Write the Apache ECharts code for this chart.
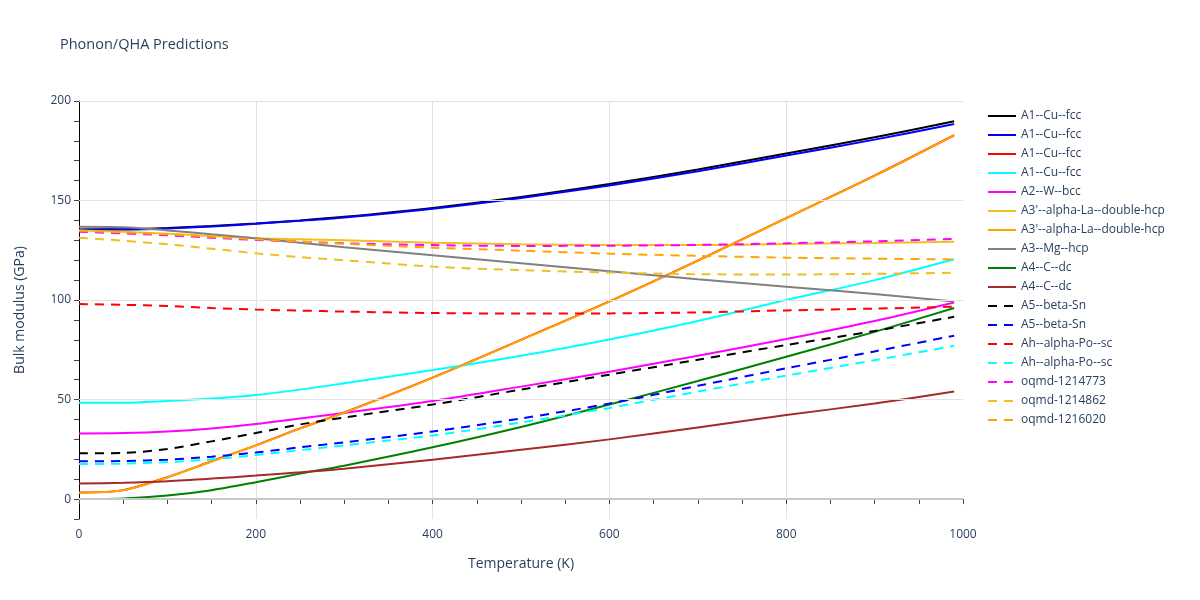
<!DOCTYPE html>
<html>
<head>
<meta charset="utf-8">
<script src="https://cdn.jsdelivr.net/npm/echarts@6/dist/echarts.min.js"></script>
<style>html,body{margin:0;padding:0;background:#fff}#chart{width:1200px;height:600px}</style>
</head>
<body>
<div id="chart"></div>
<script>
const temperatures = [0, 50, 100, 150, 200, 250, 300, 400, 500, 600, 700, 800, 900, 990];

const seriesNames = [
  "A1--Cu--fcc", "A1--Cu--fcc", "A1--Cu--fcc", "A1--Cu--fcc", "A2--W--bcc",
  "A3'--alpha-La--double-hcp", "A3'--alpha-La--double-hcp", "A3--Mg--hcp",
  "A4--C--dc", "A4--C--dc", "A5--beta-Sn", "A5--beta-Sn",
  "Ah--alpha-Po--sc", "Ah--alpha-Po--sc", "oqmd-1214773", "oqmd-1214862", "oqmd-1216020"
];

const a1CuBlack  = [135.5, 135.6, 136.2, 137.2, 138.5, 140.0, 141.8, 146.3, 151.8, 158.3, 165.6, 173.6, 181.8, 189.8];
const a1CuBlue   = [135.3, 135.4, 136.0, 137.0, 138.3, 139.8, 141.5, 145.9, 151.3, 157.6, 164.7, 172.6, 180.6, 188.4];
const a1CuRed    = [3.3, 4.5, 11.0, 19.0, 27.0, 35.5, 43.5, 61.0, 80.0, 99.3, 119.8, 141.2, 162.5, 182.8];
const a1CuCyan   = [48.4, 48.4, 49.3, 50.5, 52.3, 55.0, 58.2, 64.8, 72.0, 80.2, 89.5, 100.0, 110.0, 120.5];
const a2W        = [33.0, 33.2, 34.0, 35.5, 37.7, 40.5, 43.3, 49.3, 56.5, 64.0, 72.0, 80.4, 89.5, 98.8];
const a3LaGold   = [135.0, 134.3, 133.3, 132.2, 131.0, 130.5, 130.0, 128.8, 128.0, 127.6, 127.6, 128.2, 128.7, 129.3];
const a3LaOrange = [3.2, 4.4, 10.9, 18.9, 26.9, 35.4, 43.4, 60.9, 79.9, 99.2, 119.7, 141.1, 162.4, 182.7];
const a3Mg       = [136.8, 136.6, 135.0, 133.0, 131.0, 128.8, 126.5, 122.5, 118.5, 114.5, 110.5, 106.7, 103.0, 99.3];
const a4CGreen   = [0.0, 0.3, 1.8, 4.5, 8.5, 12.8, 16.8, 26.0, 36.2, 47.5, 59.3, 71.5, 84.0, 96.0];
const a4CBrown   = [7.8, 8.2, 9.0, 10.3, 11.8, 13.5, 15.3, 19.8, 24.8, 30.0, 36.0, 42.2, 48.0, 54.0];
const a5SnBlack  = [23.0, 23.2, 25.2, 29.0, 33.2, 37.5, 41.0, 47.5, 55.0, 62.5, 70.0, 77.4, 84.5, 91.6];
const a5SnBlue   = [19.0, 19.1, 19.8, 21.3, 23.4, 26.0, 28.5, 34.0, 40.5, 48.0, 56.9, 65.7, 74.2, 82.1];
const ahPoRed    = [98.0, 97.6, 97.0, 96.0, 95.2, 94.7, 94.2, 93.5, 93.2, 93.3, 93.8, 94.8, 95.7, 96.6];
const ahPoCyan   = [17.6, 17.8, 18.6, 20.0, 22.1, 24.6, 27.0, 32.0, 38.5, 45.8, 54.0, 62.0, 69.8, 77.0];
const oqmd1214773 = [134.3, 133.5, 132.5, 131.3, 130.2, 129.3, 128.5, 127.6, 127.2, 127.3, 127.7, 128.5, 129.5, 130.7];
const oqmd1214862 = [131.3, 129.8, 128.0, 125.8, 123.5, 121.6, 120.0, 116.8, 115.0, 113.8, 113.0, 112.8, 113.2, 113.7];
const oqmd1216020 = [134.8, 134.0, 133.0, 131.8, 130.5, 129.3, 128.3, 126.3, 124.8, 123.3, 122.2, 121.3, 120.8, 120.4];

const xTicks = [0, 200, 400, 600, 800, 1000];
const yTicks = [0, 50, 100, 150, 200];

const allValues = [a1CuBlack, a1CuBlue, a1CuRed, a1CuCyan, a2W, a3LaGold, a3LaOrange, a3Mg,
  a4CGreen, a4CBrown, a5SnBlack, a5SnBlue, ahPoRed, ahPoCyan, oqmd1214773, oqmd1214862, oqmd1216020];
const colors = ['#000000', '#0000ff', '#ff0000', '#00ffff', '#ff00ff', '#f0c020', '#ffa500', '#808080',
  '#008000', '#a52a2a', '#000000', '#0000ff', '#ff0000', '#00ffff', '#ff00ff', '#f0c020', '#ffa500'];
const dashed = [false, false, false, false, false, false, false, false, false, false,
  true, true, true, true, true, true, true];

const textColor = '#2a3f5f';
const font = '"Open Sans", "Noto Sans", sans-serif';

const series = allValues.map((vals, i) => ({
  name: seriesNames[i] + '#' + i,
  type: 'line',
  z: 3,
  data: temperatures.map((t, j) => [t, vals[j]]),
  smooth: 0.3,
  symbol: 'none',
  lineStyle: { color: colors[i], width: 2, type: dashed[i] ? [9, 7] : 'solid' },
  itemStyle: { color: colors[i] },
  emphasis: { disabled: true }
}));

series.push({
  name: 'grid-helper',
  type: 'line',
  z: 1,
  data: [],
  silent: true,
  markLine: {
    silent: true,
    symbol: 'none',
    label: { show: false },
    animation: false,
    data: yTicks.map(v => ({
      yAxis: v,
      lineStyle: v === 0 ? { color: '#c8c8c8', width: 2, type: 'solid' } : { color: '#e2e2e2', width: 1, type: 'solid' }
    }))
  }
});

const chart = echarts.init(document.getElementById('chart'));
chart.setOption({
  animation: false,
  backgroundColor: '#ffffff',
  title: {
    text: 'Phonon/QHA Predictions',
    left: 60, top: 37, padding: 0,
    textStyle: { fontFamily: font, fontSize: 14.5, fontWeight: 'normal', color: textColor }
  },
  legend: {
    orient: 'vertical',
    left: 987, top: 110, padding: 0,
    itemWidth: 28, itemHeight: 14, itemGap: 7,
    data: seriesNames.map((n, i) => n + '#' + i),
    formatter: name => name.split('#')[0],
    itemStyle: { opacity: 0 },
    textStyle: { fontFamily: font, fontSize: 12, color: textColor },
    selectedMode: false
  },
  grid: { left: 79, right: 237, top: 101, bottom: 81, containLabel: false },
  xAxis: {
    type: 'value',
    min: 0, max: 1000, interval: 200,
    name: 'Temperature (K)',
    nameLocation: 'middle', nameGap: 38,
    nameTextStyle: { fontFamily: font, fontSize: 14, color: textColor },
    axisLine: { show: true, lineStyle: { color: '#000000', width: 1 } },
    axisTick: { show: true, inside: false, length: 5, lineStyle: { color: '#444' } },
    minorTick: { show: true, splitNumber: 4, length: 5, lineStyle: { color: '#444' } },
    axisLabel: { fontFamily: font, fontSize: 12, color: textColor, margin: 10,
      formatter: v => xTicks.includes(v) ? String(v) : '' },
    splitLine: { show: true, showMinLine: false, showMaxLine: false, lineStyle: { color: '#e2e2e2', width: 1 } }
  },
  yAxis: {
    type: 'value',
    min: -10, max: 200, interval: 10,
    name: 'Bulk modulus (GPa)',
    nameLocation: 'middle', nameGap: 52,
    nameTextStyle: { fontFamily: font, fontSize: 14, color: textColor },
    axisLine: { show: true, onZero: false, lineStyle: { color: '#000000', width: 1 } },
    axisTick: { show: true, inside: false, length: 5, lineStyle: { color: '#444' } },
    axisLabel: { fontFamily: font, fontSize: 12, color: textColor, margin: 8,
      formatter: v => yTicks.includes(v) ? String(v) : '' },
    splitLine: { show: false }
  },
  series: series
});
</script>
</body>
</html>
